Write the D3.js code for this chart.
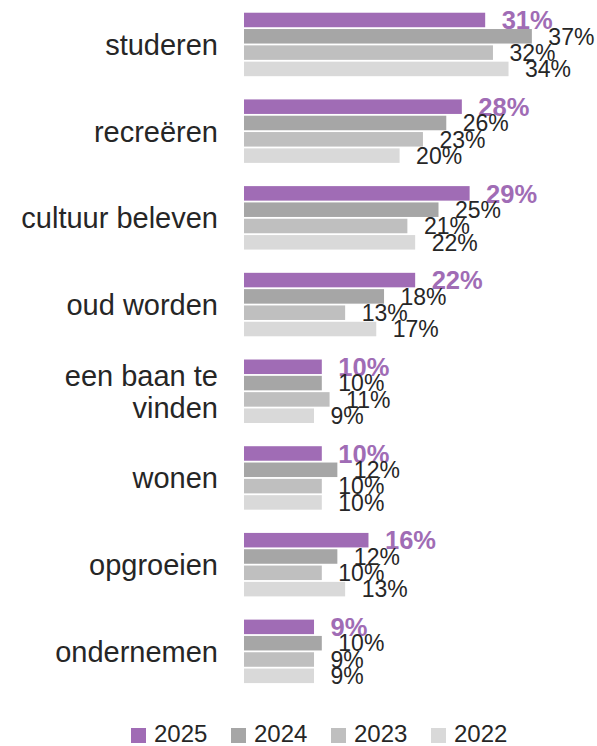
<!DOCTYPE html>
<html>
<head>
<meta charset="utf-8">
<script src="https://cdn.jsdelivr.net/npm/d3@7/dist/d3.min.js"></script>
<style>
  html, body { margin: 0; padding: 0; background: #fff; }
  svg { display: block; font-family: "Liberation Sans", Arial, sans-serif; }
</style>
</head>
<body>
<svg id="chart" width="597" height="746"></svg>
<script>
// Categories (top to bottom) and yearly shares in percent
const categories = ["studeren", "recreëren", "cultuur beleven", "oud worden",
                    "een baan te vinden", "wonen", "opgroeien", "ondernemen"];
const categoryLines = [["studeren"], ["recreëren"], ["cultuur beleven"], ["oud worden"],
                       ["een baan te", "vinden"], ["wonen"], ["opgroeien"], ["ondernemen"]];
const years = ["2025", "2024", "2023", "2022"];
const values2025 = [31, 28, 29, 22, 10, 10, 16, 9];
const values2024 = [37, 26, 25, 18, 10, 12, 12, 10];
const values2023 = [32, 23, 21, 13, 11, 10, 10, 9];
const values2022 = [34, 20, 22, 17, 9, 10, 13, 9];
const seriesValues = [values2025, values2024, values2023, values2022];
const colors = ["#A06CB5", "#A6A6A6", "#BFBFBF", "#D9D9D9"];
const textColor = "#262626";

const svg = d3.select("#chart");

const x = d3.scaleLinear().domain([0, 40]).range([244, 555.2]);

const y = d3.scaleBand()
  .domain(categories)
  .range([1.1, 694.7])
  .paddingInner(0.268)
  .paddingOuter(0.134);

const ySub = d3.scaleBand()
  .domain(years)
  .range([0, y.bandwidth()])
  .paddingInner(0.11);

const groups = svg.append("g").selectAll("g.group")
  .data(categories)
  .join("g")
  .attr("class", "group")
  .attr("transform", d => `translate(0,${y(d)})`);

groups.each(function(cat, ci) {
  const g = d3.select(this);
  const rows = years.map((yr, si) => ({ yr, si, v: seriesValues[si][ci] }));

  g.selectAll("rect")
    .data(rows)
    .join("rect")
    .attr("x", x(0))
    .attr("y", d => ySub(d.yr))
    .attr("width", d => x(d.v) - x(0))
    .attr("height", ySub.bandwidth())
    .attr("fill", d => colors[d.si]);

  g.selectAll("text.value")
    .data(rows)
    .join("text")
    .attr("class", "value")
    .attr("x", d => x(d.v) + 16.5)
    .attr("y", d => ySub(d.yr) + ySub.bandwidth() / 2)
    .attr("dy", "0.36em")
    .attr("fill", d => d.si === 0 ? colors[0] : textColor)
    .attr("font-weight", d => d.si === 0 ? "bold" : "normal")
    .attr("font-size", d => d.si === 0 ? 25.5 : 23)
    .text(d => d.v + "%");

  // category label, right-aligned left of the bars
  const lines = categoryLines[ci];
  const lh = 32;
  const cy = y.bandwidth() / 2;
  const label = g.append("text")
    .attr("text-anchor", "end")
    .attr("font-size", 29)
    .attr("fill", textColor);
  lines.forEach((ln, li) => {
    label.append("tspan")
      .attr("x", 218)
      .attr("y", cy + (li - (lines.length - 1) / 2) * lh)
      .attr("dy", "0.36em")
      .text(ln);
  });
});

// legend
const legend = svg.append("g").selectAll("g")
  .data(years)
  .join("g")
  .attr("transform", (d, i) => `translate(${131 + i * 100},728)`);

legend.append("rect")
  .attr("width", 15)
  .attr("height", 15)
  .attr("fill", (d, i) => colors[i]);

legend.append("text")
  .attr("x", 23)
  .attr("y", 14)
  .attr("font-size", 24)
  .attr("fill", textColor)
  .text(d => d);
</script>
</body>
</html>
